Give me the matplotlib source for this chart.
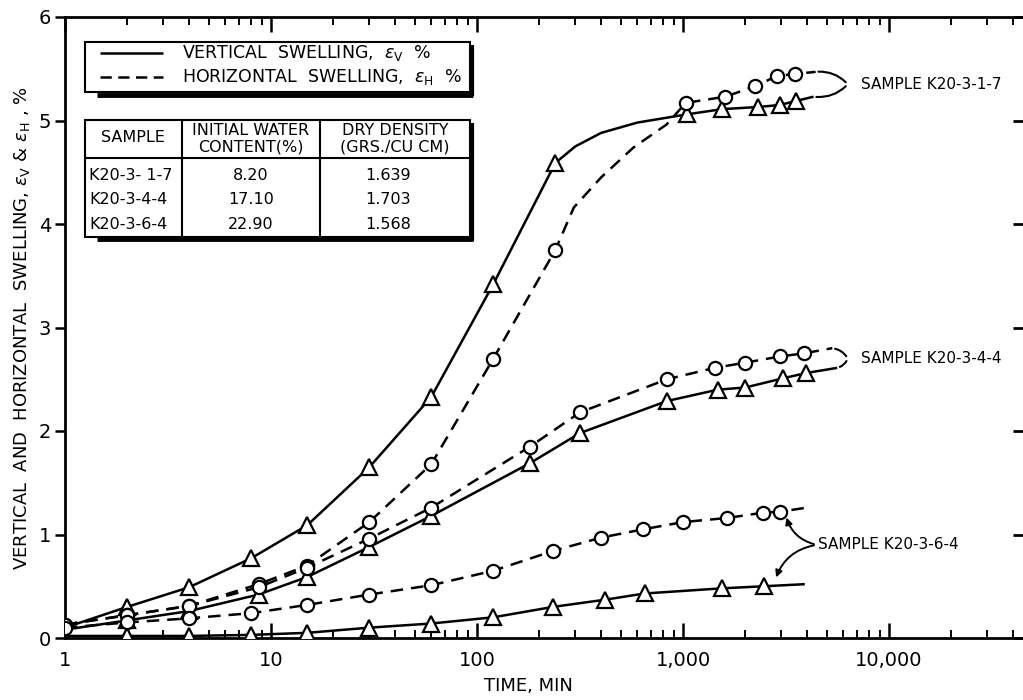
import numpy as np
import matplotlib
matplotlib.use("Agg")
import matplotlib.pyplot as plt
from matplotlib.patches import Rectangle
from matplotlib.lines import Line2D
from matplotlib.ticker import FixedLocator, FixedFormatter, LogLocator, NullFormatter

plt.rcParams['font.family'] = ['DejaVu Sans']
plt.rcParams['mathtext.fontset'] = 'dejavusans'

# ---------------- data ----------------
# Sample K20-3-1-7
t_17_v = [2, 4, 8, 15, 30, 60, 120, 240, 1050, 1550, 2300, 2950, 3550]
v_17 = [0.30, 0.49, 0.77, 1.09, 1.65, 2.33, 3.42, 4.59, 5.06, 5.11, 5.13, 5.15, 5.19]
t_17_v_line = [1, 300, 400, 600, 4300]
v_17_line = [0.10, 4.75, 4.88, 4.98, 5.23]
t_17_h = [1, 2, 4, 8.7, 15, 30, 60, 120, 240, 1030, 1600, 2240, 2850, 3500]
h_17 = [0.13, 0.22, 0.31, 0.52, 0.70, 1.12, 1.68, 2.70, 3.75, 5.17, 5.23, 5.33, 5.43, 5.45]
t_17_h_line = [295, 400, 575, 830, 4400]
h_17_line = [4.16, 4.45, 4.74, 4.96, 5.47]

# Sample K20-3-4-4
t_344_v = [2, 4, 8.7, 15, 30, 60, 181, 316, 836, 1480, 2000, 3070, 3950]
v_344 = [0.17, 0.26, 0.42, 0.59, 0.88, 1.18, 1.69, 1.98, 2.29, 2.40, 2.42, 2.51, 2.56]
t_344_v_line = [1, 5600]
v_344_line = [0.08, 2.61]
t_344_h = [1, 2, 4, 8.7, 15, 30, 60, 181, 316, 836, 1425, 2000, 2950, 3850]
h_344 = [0.13, 0.22, 0.31, 0.49, 0.68, 0.96, 1.26, 1.85, 2.18, 2.50, 2.61, 2.66, 2.72, 2.75]
t_344_h_line = [5300]
h_344_line = [2.80]

# Sample K20-3-6-4
t_364_v = [2, 4, 8, 15, 30, 60, 120, 233, 418, 650, 1550, 2470]
v_364 = [0.02, 0.02, 0.03, 0.05, 0.10, 0.14, 0.20, 0.30, 0.37, 0.43, 0.48, 0.50]
t_364_v_line = [1, 3900]
v_364_line = [0.02, 0.52]
t_364_h = [1, 2, 4, 8, 15, 30, 60, 120, 233, 400, 640, 1000, 1640, 2430, 2950]
h_364 = [0.10, 0.15, 0.19, 0.24, 0.32, 0.42, 0.51, 0.65, 0.84, 0.97, 1.05, 1.12, 1.16, 1.21, 1.22]
t_364_h_line = [4000]
h_364_line = [1.26]

x_ticks = [1, 10, 100, 1000, 10000]
x_labels = ["1", "10", "100", "1,000", "10,000"]
y_ticks = [0, 1, 2, 3, 4, 5, 6]
y_labels = ["0", "1", "2", "3", "4", "5", "6"]

table_header = ["SAMPLE", "INITIAL WATER\nCONTENT(%)", "DRY DENSITY\n(GRS./CU CM)"]
table_samples = ["K20-3- 1-7", "K20-3-4-4", "K20-3-6-4"]
table_water = ["8.20", "17.10", "22.90"]
table_density = ["1.639", "1.703", "1.568"]

# ---------------- figure ----------------
W, H = 1023, 700
fig = plt.figure(figsize=(W / 100, H / 100), dpi=100)
ax = fig.add_axes([65 / W, 62 / H, (W - 65) / W, (638 - 17) / H])
ax.set_xscale('log')
ax.set_xlim(1, 10 ** 4.65)
ax.set_ylim(0, 6)

LW = 1.8
DASH = (0, (5, 3.2))


def draw(tm, ym, tx, yx, marker, ms, dashed):
    t_all = np.array(list(tm) + list(tx), dtype=float)
    y_all = np.array(list(ym) + list(yx), dtype=float)
    o = np.argsort(t_all)
    ax.plot(t_all[o], y_all[o], color='k', lw=LW, ls=DASH if dashed else '-',
            zorder=2, solid_capstyle='butt', solid_joinstyle='round')
    ax.plot(tm, ym, ls='none', marker=marker, ms=ms, mfc='white', mec='k',
            mew=1.6, zorder=3)


TRI = 11
CIR = 9.5
draw(t_17_v, v_17, t_17_v_line, v_17_line, '^', TRI, False)
draw(t_17_h, h_17, t_17_h_line, h_17_line, 'o', CIR, True)
draw(t_344_v, v_344, t_344_v_line, v_344_line, '^', TRI, False)
draw(t_344_h, h_344, t_344_h_line, h_344_line, 'o', CIR, True)
draw(t_364_v, v_364, t_364_v_line, v_364_line, '^', TRI, False)
draw(t_364_h, h_364, t_364_h_line, h_364_line, 'o', CIR, True)

# ticks
ax.xaxis.set_major_locator(FixedLocator(x_ticks))
ax.xaxis.set_major_formatter(FixedFormatter(x_labels))
ax.xaxis.set_minor_locator(LogLocator(base=10, subs=range(2, 10), numticks=20))
ax.xaxis.set_minor_formatter(NullFormatter())
ax.tick_params(axis='x', which='both', direction='in', top=True, bottom=True,
               labelsize=14, pad=9)
ax.tick_params(axis='x', which='major', length=11, width=1.8)
ax.tick_params(axis='x', which='minor', length=6, width=1.4)
ax.yaxis.set_major_locator(FixedLocator(y_ticks))
ax.yaxis.set_major_formatter(FixedFormatter(y_labels))
ax.tick_params(axis='y', which='major', direction='out', left=True, right=False,
               length=7, width=1.8, labelsize=14, pad=3)
for s in ['left', 'top', 'bottom']:
    ax.spines[s].set_linewidth(2.0)
ax.spines['right'].set_visible(False)

sec = ax.secondary_yaxis('right')
sec.set_yticks(y_ticks)
sec.tick_params(axis='y', direction='in', length=7, width=2.0, labelright=False)
sec.spines['right'].set_visible(False)

# axis labels
fig.text(22 / W, 1 - 328 / H,
         r"VERTICAL  AND  HORIZONTAL  SWELLING, $\epsilon_{\mathrm{V}}$ & $\epsilon_{\mathrm{H}}$ , %",
         rotation=90, ha='center', va='center', fontsize=13)
fig.text(528 / W, 1 - 686 / H, "TIME, MIN", ha='center', va='center', fontsize=13)

# annotations
ax.annotate("", xy=(t_17_h_line[-1], h_17_line[-1]), xytext=(6300, 5.35),
            arrowprops=dict(arrowstyle='-', lw=1.5, connectionstyle='arc3,rad=0.25'))
ax.annotate("", xy=(t_17_v_line[-1], v_17_line[-1]), xytext=(6300, 5.35),
            arrowprops=dict(arrowstyle='-', lw=1.5, connectionstyle='arc3,rad=-0.25'))
ax.text(7300, 5.35, "SAMPLE K20-3-1-7", fontsize=11, ha='left', va='center')

ax.annotate("", xy=(t_344_h_line[-1], h_344_line[-1]), xytext=(6300, 2.70),
            arrowprops=dict(arrowstyle='-', lw=1.5, connectionstyle='arc3,rad=0.25'))
ax.annotate("", xy=(t_344_v_line[-1], v_344_line[-1]), xytext=(6300, 2.70),
            arrowprops=dict(arrowstyle='-', lw=1.5, connectionstyle='arc3,rad=-0.25'))
ax.text(7300, 2.70, "SAMPLE K20-3-4-4", fontsize=11, ha='left', va='center')

ax.annotate("", xy=(3150, 1.19), xytext=(4450, 0.90),
            arrowprops=dict(arrowstyle='-|>', lw=1.4, mutation_scale=10,
                            connectionstyle='arc3,rad=-0.3', color='k'))
ax.annotate("", xy=(2800, 0.56), xytext=(4450, 0.90),
            arrowprops=dict(arrowstyle='-|>', lw=1.4, mutation_scale=10,
                            connectionstyle='arc3,rad=0.3', color='k'))
ax.text(4520, 0.90, "SAMPLE K20-3-6-4", fontsize=11, ha='left', va='center')


# ---------------- legend box and table (figure pixel layout) ----------------
def P(x, y):
    return (x / W, 1 - y / H)


def line(x0, y0, x1, y1, lw=1.5, **kw):
    fig.add_artist(Line2D([x0 / W, x1 / W], [1 - y0 / H, 1 - y1 / H], color='k', lw=lw,
                          transform=fig.transFigure, solid_capstyle='butt', **kw))


def box(x0, y0, x1, y1):
    fig.add_artist(Rectangle(P(x0, y1), (x1 - x0) / W, (y1 - y0) / H, facecolor='white',
                             edgecolor='k', lw=1.5, transform=fig.transFigure, zorder=4))
    line(x0 + 12, y1 + 2.5, x1 + 3, y1 + 2.5, lw=3.5, zorder=5)
    line(x1 + 1.5, y0 + 3, x1 + 1.5, y1 + 4, lw=3.0, zorder=5)


# legend
box(85, 42, 470, 92)
line(100, 53, 163, 53, lw=LW, zorder=6)
fig.add_artist(Line2D([100 / W, 163 / W], [1 - 77 / H, 1 - 77 / H], color='k', lw=LW,
                      ls=(0, (4.5, 2.6)), transform=fig.transFigure, zorder=6))
fig.text(182 / W, 1 - 53 / H, r"VERTICAL  SWELLING,  $\epsilon_{\mathrm{V}}$  %",
         fontsize=12.5, ha='left', va='center', zorder=6)
fig.text(182 / W, 1 - 77 / H, r"HORIZONTAL  SWELLING,  $\epsilon_{\mathrm{H}}$  %",
         fontsize=12.5, ha='left', va='center', zorder=6)

# table
box(85, 120, 470, 237)
line(85, 158, 470, 158, lw=1.5, zorder=6)
line(182, 120, 182, 237, lw=1.5, zorder=6)
line(320, 120, 320, 237, lw=1.5, zorder=6)
col_x = [133, 251, 395]
fig.text(col_x[0] / W, 1 - 138 / H, table_header[0], fontsize=11.5, ha='center',
         va='center', zorder=6)
fig.text(col_x[1] / W, 1 - 139 / H, table_header[1], fontsize=11.5, ha='center',
         va='center', zorder=6, linespacing=1.15)
fig.text(col_x[2] / W, 1 - 139 / H, table_header[2], fontsize=11.5, ha='center',
         va='center', zorder=6, linespacing=1.15)
row_y = [175, 200, 224]
for s, w, d, y in zip(table_samples, table_water, table_density, row_y):
    fig.text(89 / W, 1 - y / H, s, fontsize=11.5, ha='left', va='center', zorder=6)
    fig.text(col_x[1] / W, 1 - y / H, w, fontsize=11.5, ha='center', va='center', zorder=6)
    fig.text(388 / W, 1 - y / H, d, fontsize=11.5, ha='center', va='center', zorder=6)

fig.savefig("out.png", dpi=100)
